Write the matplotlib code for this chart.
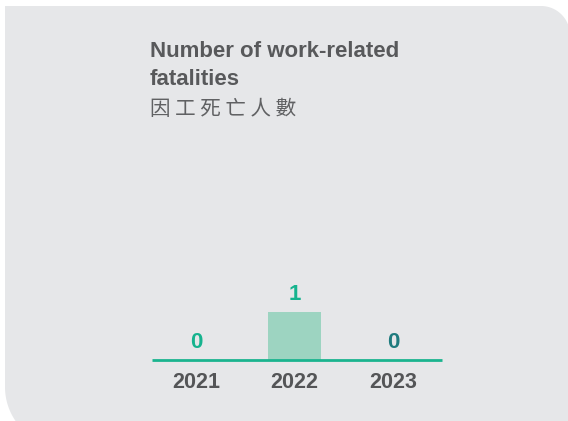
import numpy as np
import matplotlib
matplotlib.use("Agg")
import matplotlib.pyplot as plt
from matplotlib.patches import Polygon

# ---- data ----
years = ["2021", "2022", "2023"]
fatalities = [0, 1, 0]
value_colors = ["#16b38e", "#16b38e", "#1f7b7e"]
title_en_1 = "Number of work-related"
title_en_2 = "fatalities"
title_zh = "因 工 死 亡 人 數"

W, H = 568, 421
fig = plt.figure(figsize=(W / 100, H / 100), dpi=100)
fig.patch.set_facecolor("white")

# ---- background panel (pixel coordinates, y down) ----
bg = fig.add_axes([0, 0, 1, 1], zorder=0)
bg.set_xlim(0, W)
bg.set_ylim(H, 0)
bg.axis("off")
t1 = np.linspace(-np.pi / 2, 0, 40)
tr = np.column_stack([541 + 29 * np.cos(t1), 35 + 29 * np.sin(t1)])
t2 = np.linspace(np.pi / 2, np.pi, 40)
bl = np.column_stack([65 + 60 * np.cos(t2), 387 + 60 * np.sin(t2)])
pts = np.vstack([[[5, 6]], tr, [[570, 447]], bl])
bg.add_patch(Polygon(pts, closed=True, facecolor="#e6e7e9", edgecolor="none"))

# ---- titles ----
def fx(px):
    return px / W

def fy(py):
    return 1 - py / H

fig.text(fx(150), fy(57), title_en_1, fontsize=16, fontweight="bold",
         color="#58595b", family="Liberation Sans", va="baseline", ha="left")
fig.text(fx(150), fy(85), title_en_2, fontsize=16, fontweight="bold",
         color="#58595b", family="Liberation Sans", va="baseline", ha="left")
fig.text(fx(150), fy(115), title_zh, fontsize=14.8,
         color="#606163", family=["Noto Sans CJK TC", "DejaVu Sans"],
         va="baseline", ha="left")

# ---- bar chart ----
ax_left, ax_right = 152, 442
ax_base = 360
unit_px = 48
ylim_top = 4
ax = fig.add_axes([fx(ax_left), fy(ax_base), (ax_right - ax_left) / W,
                   unit_px * ylim_top / H], zorder=1)
ax.set_facecolor("none")
x = np.arange(len(years))
ax.bar(x, fatalities, width=0.54, color="#9dd4c1", zorder=1)
ax.axhline(0, color="#1ab48f", lw=2, zorder=2, clip_on=False,
           solid_capstyle="butt")
ax.set_xlim(-0.45, 2.5)
ax.set_ylim(0, ylim_top)
ax.axis("off")

for xi, v, c in zip(x, fatalities, value_colors):
    ax.annotate(str(v), xy=(xi, v), xytext=(0, 12.5), textcoords="offset points",
                ha="center", va="center", fontsize=16, fontweight="bold",
                color=c, family="Liberation Sans")
    ax.annotate(years[xi], xy=(xi, 0), xytext=(0, -16), textcoords="offset points",
                ha="center", va="center", fontsize=15.5, fontweight="bold",
                color="#545557", family="Liberation Sans")

fig.savefig("out.png", dpi=100, facecolor="white")
